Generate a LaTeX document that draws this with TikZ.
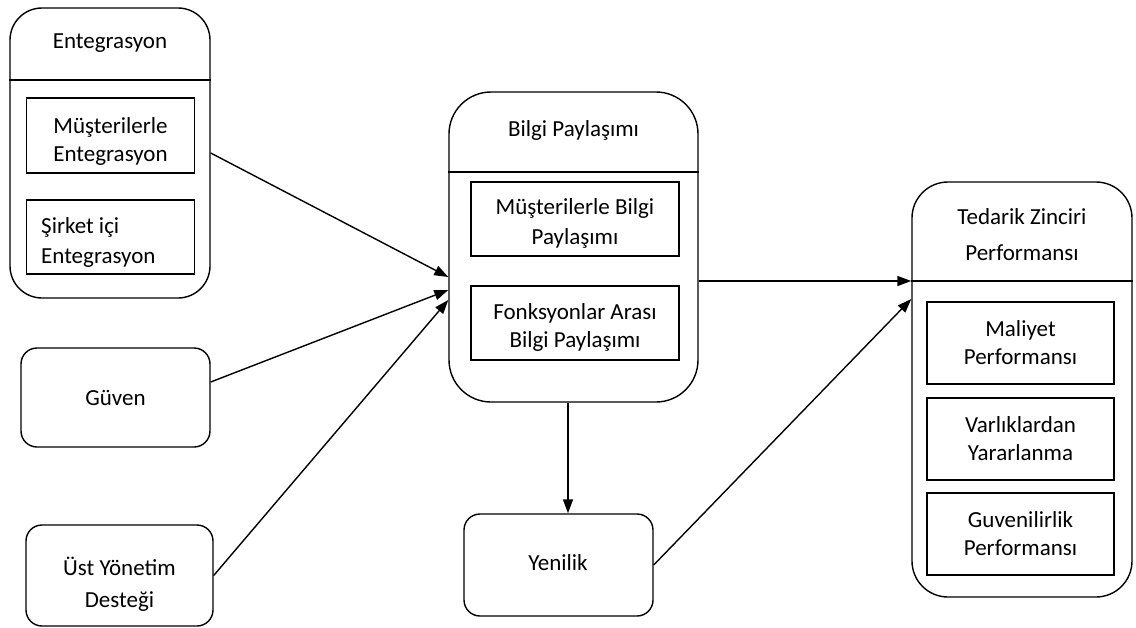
\documentclass[tikz,border=0pt]{standalone}
\usepackage{fontspec}
\setmainfont{Carlito}
\usetikzlibrary{arrows.meta}
\begin{document}
\begin{tikzpicture}[x=1pt,y=-1pt,
  every node/.style={font=\fontsize{23}{28}\selectfont, align=center, inner sep=0pt},
  outer/.style={draw, line width=1.4pt, rounded corners=#1},
  outer/.default=30pt,
  inner/.style={draw, line width=1.4pt},
  divider/.style={line width=1.4pt},
  link/.style={line width=1.4pt, -{Triangle[length=14pt,width=10pt]}},
  lbl/.style={draw=none}]
\useasboundingbox (0,0) rectangle (1136,627);

% Entegrasyon group
\node[outer=32pt, minimum width=200pt, minimum height=290pt] (ent) at (110,153) {};
\node[lbl] (entT) at (110,43) {Entegrasyon};
\draw[divider] (ent.west |- 0,80) -- (ent.east |- 0,80);
\node[inner, minimum width=168pt, minimum height=75pt] (ent1) at (110.5,135.5) {};
\node[lbl] (ent1T) at (110.5,141) {Müşterilerle\\Entegrasyon};
\node[inner, minimum width=168pt, minimum height=74pt] (ent2) at (110.5,237) {};
\node[lbl, anchor=west, align=left, font=\fontsize{23}{30}\selectfont] (ent2T) at (41,242) {Şirket içi\\Entegrasyon};

% Güven
\node[outer=16pt, minimum width=189pt, minimum height=99pt] (guv) at (115.5,397.5) {Güven};

% Üst Yönetim Desteği
\node[outer=16pt, minimum width=187pt, minimum height=101pt] (ust) at (119.5,575.5) {};
\node[lbl, font=\fontsize{23}{32}\selectfont] (ustT) at (119.5,584) {Üst Yönetim\\Desteği};

% Bilgi Paylaşımı group
\node[outer=42pt, minimum width=249pt, minimum height=310pt] (bil) at (573.5,247) {};
\node[lbl] (bilT) at (573.5,130) {Bilgi Paylaşımı};
\draw[divider] (bil.west |- 0,172) -- (bil.east |- 0,172);
\node[inner, minimum width=208pt, minimum height=74pt] (bil1) at (575,219) {};
\node[lbl, font=\fontsize{23}{30}\selectfont] (bil1T) at (575,223.5) {Müşterilerle Bilgi\\Paylaşımı};
\node[inner, minimum width=208pt, minimum height=74pt] (bil2) at (575,323) {};
\node[lbl] (bil2T) at (575,327) {Fonksyonlar Arası\\Bilgi Paylaşımı};

% Yenilik
\node[outer=16pt, minimum width=189pt, minimum height=102pt] (yen) at (558.5,565) {};
\node[lbl] (yenT) at (558,563) {Yenilik};

% Tedarik Zinciri Performansı group
\node[outer=36pt, minimum width=220pt, minimum height=415pt] (ted) at (1022,389.5) {};
\node[lbl, font=\fontsize{23}{36}\selectfont] (tedT) at (1022,235) {Tedarik Zinciri\\Performansı};
\draw[divider] (ted.west |- 0,281) -- (ted.east |- 0,281);
\node[inner, minimum width=187pt, minimum height=82pt] (ted1) at (1020.5,343) {Maliyet\\Performansı};
\node[inner, minimum width=187pt, minimum height=82pt] (ted2) at (1020.5,439) {Varlıklardan\\Yararlanma};
\node[inner, minimum width=187pt, minimum height=82pt] (ted3) at (1020.5,534) {Guvenilirlik\\Performansı};

% Connectors
\draw[link] (ent.east) -- (bil.west |- 0,277);
\draw[link] (guv.east |- 0,382) -- (bil.west |- 0,290);
\draw[link] (ust.east) -- (bil.west |- 0,300);
\draw[link] (bil.east |- 0,281) -- (ted.west |- 0,281);
\draw[link] (bil.south -| 568,0) -- (yen.north -| 568,0);
\draw[link] (yen.east) -- (ted.west |- 0,299);
\end{tikzpicture}
\end{document}
